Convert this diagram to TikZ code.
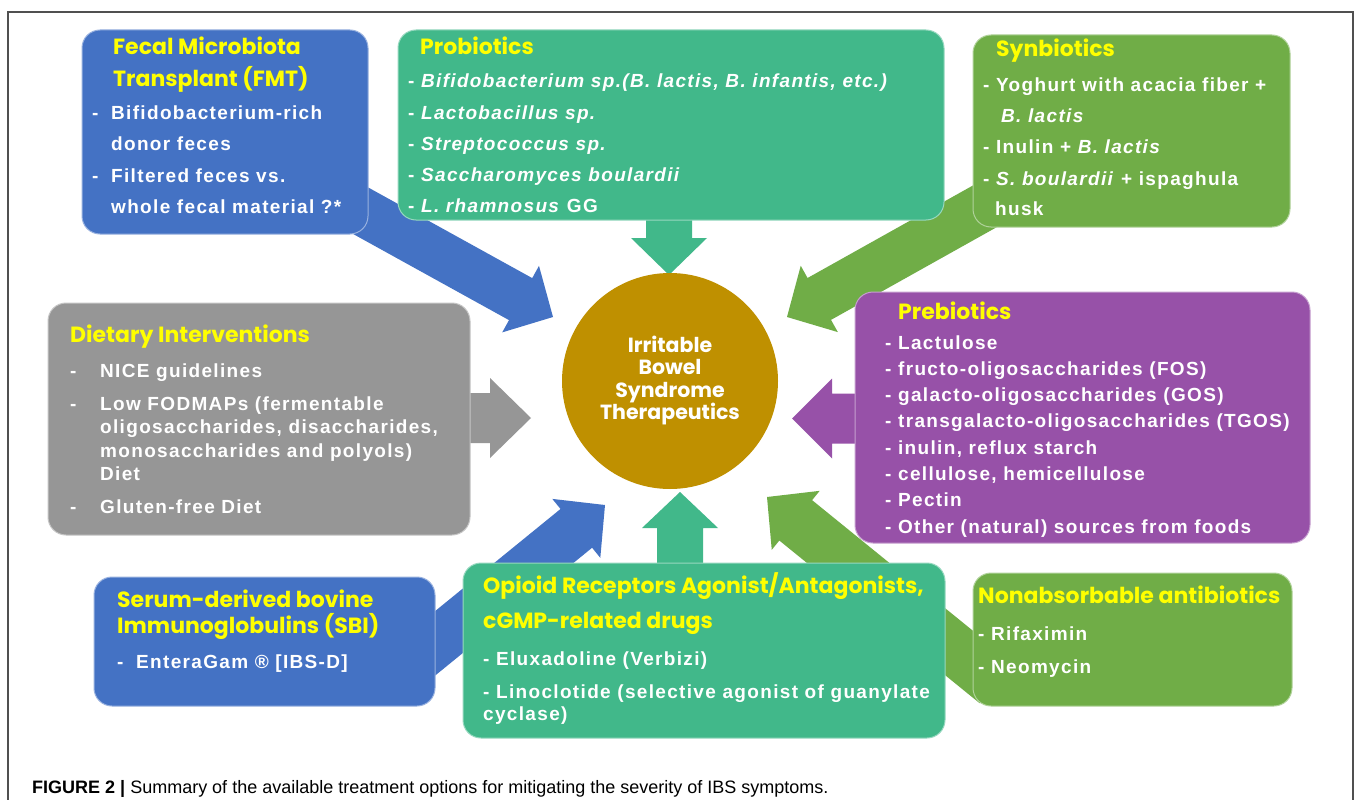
\documentclass[tikz,border=0pt]{standalone}
\usepackage{fontspec}
\setmainfont{Liberation Sans}
\newfontfamily\bodyf{Liberation Sans}[LetterSpace=7]
\newfontfamily\poppins{Poppins}
\newfontfamily\capf{Liberation Sans}
\usetikzlibrary{calc}
\pgfdeclarelayer{bg}
\pgfsetlayers{bg,main}
\definecolor{cblue}{HTML}{4472C4}
\definecolor{cteal}{HTML}{41B88A}
\definecolor{cgreen}{HTML}{70AD47}
\definecolor{cgray}{HTML}{969696}
\definecolor{cpurple}{HTML}{9751A8}
\definecolor{cgold}{HTML}{BF9000}
\definecolor{cyel}{HTML}{FFFF00}
\definecolor{cframe}{HTML}{505050}
\newcommand\bodyfnt{\bodyf\bfseries\fontsize{19}{19}\selectfont}
\newcommand\ttlfnt{\poppins\bfseries\fontsize{22}{22}\selectfont}
\newcommand\bkarrow[6]{%
  \coordinate (hb) at ($(#3)!#6!(#2)$);
  \fill[#1] ($(#2)!#4!90:(#3)$) -- ($(hb)!#4!-90:(#2)$) -- ($(hb)!#5!-90:(#2)$) -- (#3)
    -- ($(hb)!#5!90:(#2)$) -- ($(hb)!#4!90:(#2)$) -- ($(#2)!#4!-90:(#3)$) -- cycle;
}
\tikzset{
  box/.style={rounded corners=18pt, draw=white!45!#1, line width=1pt, fill=#1,
    inner sep=0pt, outer sep=0pt, anchor=north west},
  ttl/.style={anchor=base west, inner sep=0pt, text=cyel, font=\ttlfnt},
  txt/.style={anchor=base west, inner sep=0pt, text=white, font=\bodyfnt},
  ctr/.style={anchor=base, inner sep=0pt, text=white, font=\poppins\bfseries\fontsize{20.5}{20.5}\selectfont},
}
\begin{document}
\begin{tikzpicture}[x=1pt,y=-1pt]
\useasboundingbox (0,0) rectangle (1358,800);

% boxes
\node[box=cblue, minimum width=286pt, minimum height=204pt] (fmt) at (82,30) {};
\node[box=cteal, minimum width=546pt, minimum height=190pt] (pro) at (398,30) {};
\node[box=cgreen, minimum width=317pt, minimum height=192pt] (syn) at (973,35) {};
\node[box=cgray, minimum width=422pt, minimum height=232pt] (diet) at (48,303) {};
\node[box=cpurple, minimum width=455pt, minimum height=251pt] (pre) at (855,292) {};
\node[box=cblue, minimum width=341pt, minimum height=129pt] (sbi) at (94,577) {};
\node[box=cteal, minimum width=482pt, minimum height=175pt] (opi) at (463,563) {};
\node[box=cgreen, minimum width=319pt, minimum height=133pt] (non) at (973,573) {};
\node[circle, fill=cgold, minimum size=216pt, inner sep=0pt] (ibs) at (670,381) {};

% arrow end points
\coordinate (fmtA) at (334,196);   \coordinate (fmtB) at (553,317);
\coordinate (synA) at (1014,190);  \coordinate (synB) at (787,317);
\coordinate (proA) at (669,200);   \coordinate (proB) at (669,275);
\coordinate (opiA) at (680,580);   \coordinate (opiB) at (680,492);
\coordinate (dietA) at (450,418);  \coordinate (dietB) at (531,418);
\coordinate (preA) at (870,418.5); \coordinate (preB) at (792,418.5);
\coordinate (sbiA) at (409,664.6); \coordinate (sbiB) at (605,505);
\coordinate (nonA) at (996,683);   \coordinate (nonB) at (767,497);

\begin{pgfonlayer}{bg}
\fill[white] (0,0) rectangle (1358,800);
\draw[cframe, line width=1.3pt] (8,805) -- (8,12) -- (1353,12) -- (1353,805);
\bkarrow{cblue}{fmtA}{fmtB}{24pt}{38pt}{37pt}
\bkarrow{cgreen}{synA}{synB}{24pt}{38pt}{37pt}
\bkarrow{cteal}{proA}{proB}{23pt}{38pt}{37pt}
\bkarrow{cteal}{opiA}{opiB}{23pt}{38pt}{36pt}
\bkarrow{cgray}{dietA}{dietB}{25pt}{40pt}{41pt}
\bkarrow{cpurple}{preA}{preB}{25pt}{40pt}{40pt}
\bkarrow{cblue}{sbiA}{sbiB}{25pt}{38pt}{37pt}
\bkarrow{cgreen}{nonA}{nonB}{26pt}{38pt}{37pt}
\end{pgfonlayer}

% centre text
\node[ctr] (ibs1) at (670,352) {Irritable};
\node[ctr] (ibs2) at (670,374) {Bowel};
\node[ctr] (ibs3) at (670,397) {Syndrome};
\node[ctr] (ibs4) at (670,419) {Therapeutics};

% FMT
\node[ttl] (fmtt1) at (113,55) {Fecal Microbiota};
\node[ttl] (fmtt2) at (113,86) {Transplant (FMT)};
\node[txt] (fmt1) at (92,119) {\makebox[19pt][l]{-}Bifidobacterium-rich};
\node[txt] (fmt2) at (111,150) {donor feces};
\node[txt] (fmt3) at (92,182) {\makebox[19pt][l]{-}Filtered feces vs.};
\node[txt] (fmt4) at (111,213) {whole fecal material ?*};

% Probiotics
\node[ttl] (prot) at (420,55) {Probiotics};
\node[txt] (pro1) at (408,88) {- \textit{Bifidobacterium sp.(B. lactis, B. infantis, etc.)}};
\node[txt] (pro2) at (408,119) {- \textit{Lactobacillus sp.}};
\node[txt] (pro3) at (408,150) {- \textit{Streptococcus sp.}};
\node[txt] (pro4) at (408,181) {- \textit{Saccharomyces boulardii}};
\node[txt] (pro5) at (408,212) {- \textit{L. rhamnosus} GG};

% Synbiotics
\node[ttl] (synt) at (996,57) {Synbiotics};
\node[txt] (syn1) at (983,92) {- Yoghurt with acacia fiber +};
\node[txt] (syn2) at (1001,122) {\textit{B. lactis}};
\node[txt] (syn3) at (983,153) {- Inulin + \textit{B. lactis}};
\node[txt] (syn4) at (983,185) {- \textit{S. boulardii} + ispaghula};
\node[txt] (syn5) at (995,215) {husk};

% Dietary
\node[ttl] (diett) at (70,342) {Dietary Interventions};
\node[txt] (dietd1) at (70,377) {-};
\node[txt] (diet1) at (100,377) {NICE guidelines};
\node[txt] (dietd2) at (70,410) {-};
\node[txt] (diet2) at (100,410) {Low FODMAPs (fermentable};
\node[txt] (diet3) at (100,433) {oligosaccharides, disaccharides,};
\node[txt] (diet4) at (100,457) {monosaccharides and polyols)};
\node[txt] (diet5) at (100,480) {Diet};
\node[txt] (dietd3) at (70,513) {-};
\node[txt] (diet6) at (100,513) {Gluten-free Diet};

% Prebiotics
\node[ttl] (pret) at (898,319) {Prebiotics};
\node[txt] (pre1) at (885,349) {- Lactulose};
\node[txt] (pre2) at (885,375.3) {- fructo-oligosaccharides (FOS)};
\node[txt] (pre3) at (885,401.6) {- galacto-oligosaccharides (GOS)};
\node[txt] (pre4) at (885,427.9) {- transgalacto-oligosaccharides (TGOS)};
\node[txt] (pre5) at (885,454.2) {- inulin, reflux starch};
\node[txt] (pre6) at (885,480.5) {- cellulose, hemicellulose};
\node[txt] (pre7) at (885,506.8) {- Pectin};
\node[txt] (pre8) at (885,533.1) {- Other (natural) sources from foods};

% SBI
\node[ttl] (sbit1) at (117,607) {Serum-derived bovine};
\node[ttl] (sbit2) at (117,633) {Immunoglobulins (SBI)};
\node[txt] (sbi1) at (117,668) {\makebox[19pt][l]{-}EnteraGam ® [IBS-D]};

% Opioid
\node[ttl] (opit1) at (483,593) {Opioid Receptors Agonist/Antagonists,};
\node[ttl] (opit2) at (483,628) {cGMP-related drugs};
\node[txt] (opi1) at (483,665) {- Eluxadoline (Verbizi)};
\node[txt] (opi2) at (483,698) {- Linoclotide (selective agonist of guanylate};
\node[txt] (opi3) at (483,720) {cyclase)};

% Nonabsorbable
\node[ttl] (nont) at (978,603) {Nonabsorbable antibiotics};
\node[txt] (non1) at (978,640) {- Rifaximin};
\node[txt] (non2) at (978,673) {- Neomycin};

% caption
\node[anchor=base west, inner sep=0pt, font=\capf\fontsize{18}{18}\selectfont] (cap) at (32,793)
  {\textbf{FIGURE 2 |} Summary of the available treatment options for mitigating the severity of IBS symptoms.};
\end{tikzpicture}
\end{document}
